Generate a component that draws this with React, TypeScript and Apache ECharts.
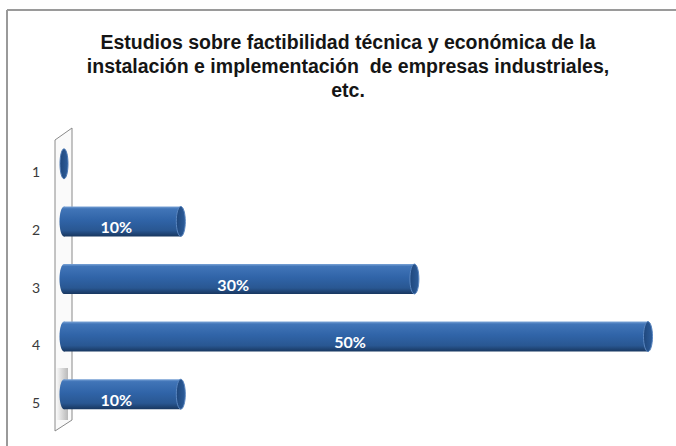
import React, { useEffect, useRef } from "react";
import * as echarts from "echarts";

const titleText =
  "Estudios sobre factibilidad técnica y económica de la\ninstalación e implementación  de empresas industriales,\netc.";
const categories = ["1", "2", "3", "4", "5"];
const values = [0, 10, 30, 50, 10];
const xMin = 0;
const xMax = 50;

export default function App() {
  const ref = useRef<HTMLDivElement>(null);
  useEffect(() => {
    document.body.style.margin = "0";
    if (!ref.current) return;
    const chart = echarts.init(ref.current, undefined, { renderer: "svg" });
    const bodyGrad = new echarts.graphic.LinearGradient(0, 0, 0, 1, [
      { offset: 0, color: "#7aa3d6" },
      { offset: 0.08, color: "#4175b8" },
      { offset: 0.45, color: "#3064a8" },
      { offset: 0.8, color: "#295792" },
      { offset: 1, color: "#183760" },
    ]);
    const capGrad = new echarts.graphic.LinearGradient(0, 0, 1, 0, [
      { offset: 0, color: "#1f477c" },
      { offset: 1, color: "#2d5d9b" },
    ]);
    chart.setOption({
      animation: false,
      backgroundColor: "#ffffff",
      title: {
        text: titleText,
        left: 343,
        top: 25,
        textAlign: "center",
        textStyle: {
          fontFamily: "Liberation Sans, Arial, sans-serif",
          fontWeight: "bold",
          fontSize: 19.5,
          lineHeight: 24,
          color: "#151515",
        },
      },
      grid: { left: 64, right: 28, top: 136, bottom: 22 },
      xAxis: {
        type: "value",
        min: xMin,
        max: xMax,
        show: false,
      },
      yAxis: {
        type: "category",
        data: categories,
        inverse: true,
        axisLine: { show: false },
        axisTick: { show: false },
        splitLine: { show: false },
        axisLabel: {
          margin: 24,
          verticalAlign: "top",
          fontFamily: "Lato, sans-serif",
          fontSize: 14,
          color: "#3a3a3a",
        },
      },
      graphic: [
        {
          type: "line",
          z: 0,
          shape: { x1: 7, y1: 10, x2: 676, y2: 10 },
          style: { stroke: "#9a9a9a", lineWidth: 2 },
        },
        {
          type: "line",
          z: 0,
          shape: { x1: 7, y1: 10, x2: 7, y2: 446 },
          style: { stroke: "#9a9a9a", lineWidth: 2 },
        },
        {
          type: "polygon",
          z: 0,
          shape: {
            points: [
              [55, 140],
              [72, 128],
              [72, 420],
              [55, 431],
            ],
          },
          style: { fill: "#fafafa", stroke: "#8a8a8a", lineWidth: 1 },
        },
        {
          type: "rect",
          z: 1,
          shape: { x: 56, y: 368, width: 12, height: 52 },
          style: {
            fill: new echarts.graphic.LinearGradient(0, 0, 1, 0, [
              { offset: 0, color: "rgba(120,120,120,0)" },
              { offset: 1, color: "rgba(120,120,120,0.5)" },
            ]),
          },
        },
      ],
      series: [
        {
          type: "custom",
          z: 5,
          data: values.map((v, i) => [v, i]),
          encode: { x: 0, y: 1 },
          renderItem: (params: any, api: any) => {
            const v = api.value(0);
            const idx = api.value(1);
            const start = api.coord([0, idx]);
            const end = api.coord([v, idx]);
            const band = api.size([0, 1])[1];
            const h = band * 0.52;
            const cy = start[1] - 1;
            const rx = 4.5;
            const children: any[] = [];
            if (v > 0) {
              children.push({
                type: "rect",
                shape: { x: start[0], y: cy - h / 2, width: end[0] - start[0], height: h },
                style: { fill: bodyGrad },
              });
              children.push({
                type: "ellipse",
                shape: { cx: start[0], cy, rx, ry: h / 2 },
                style: { fill: bodyGrad },
              });
              children.push({
                type: "ellipse",
                shape: { cx: end[0], cy, rx, ry: h / 2 },
                style: { fill: capGrad, stroke: "#5a86c0", lineWidth: 1 },
              });
              children.push({
                type: "text",
                style: {
                  text: v + "%",
                  x: (start[0] + end[0]) / 2 - 6,
                  y: cy + 5,
                  align: "center",
                  verticalAlign: "middle",
                  fill: "#ffffff",
                  font: "bold 16px Lato, sans-serif",
                },
              });
            } else {
              children.push({
                type: "ellipse",
                shape: { cx: start[0], cy, rx: 4, ry: h / 2 },
                style: { fill: capGrad, stroke: "#4d79b4", lineWidth: 1 },
              });
            }
            return { type: "group", children };
          },
        },
      ],
    });
    return () => chart.dispose();
  }, []);
  return <div ref={ref} style={{ width: 676, height: 446 }} />;
}
